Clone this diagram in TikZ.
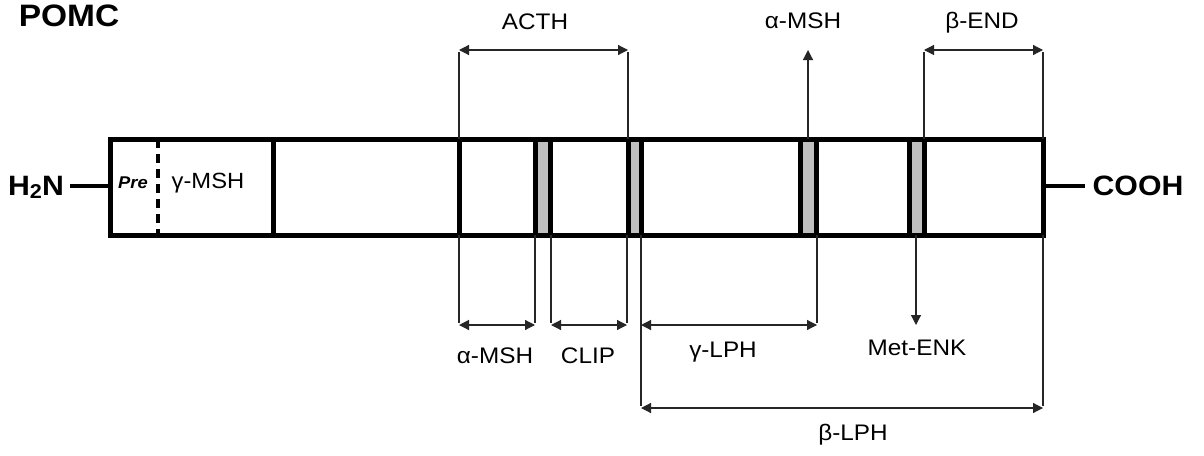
\documentclass[tikz,border=0pt]{standalone}
\usepackage{fontspec}
\setmainfont{Liberation Sans}[FakeStretch=1.08]
\usetikzlibrary{arrows.meta}
\begin{document}
\begin{tikzpicture}[x=1pt,y=-1pt,
  heavy/.style={line width=5pt},
  thinline/.style={line width=1.2pt, draw=black!85},
  tipped/.style={thinline,-{Triangle[length=10pt,width=10pt]}},
  dimline/.style={thinline,{Triangle[length=10pt,width=10pt]}-{Triangle[length=10pt,width=10pt]}},
  lbl/.style={font=\fontsize{22.5}{26}\selectfont, inner sep=0pt, anchor=base},
  big/.style={font=\fontsize{28}{32}\selectfont\bfseries, inner sep=0pt, anchor=base},
  band/.style={fill=black!25, draw=black, line width=5pt}]
\fill[white] (0,0) rectangle (1204,455);
\useasboundingbox (0,0) rectangle (1204,455);

% main bar
\draw[heavy] (110,139) rectangle (1043,235);
\draw[heavy] (273,139) -- (273,235);
\draw[heavy] (459,139) -- (459,235);
\draw[heavy, line width=4.5pt, dash pattern=on 9pt off 6pt] (158,139) -- (158,235);
\draw[band] (535,139) rectangle (550,235);
\draw[band] (628,139) rectangle (641,235);
\draw[band] (800,139) rectangle (816,235);
\draw[band] (909,139) rectangle (924,235);

% labels
\node[big, font=\fontsize{31}{34}\selectfont\bfseries] (pomc) at (69,27) {POMC};
\node[big] (h2n) at (36,195) {H\raisebox{-0.22ex}{\fontsize{20}{20}\selectfont 2}N};
\node[big] (cooh) at (1138,195) {COOH};
\node[lbl, font=\fontsize{17}{20}\selectfont\bfseries\itshape] (pre) at (133,188) {Pre};
\node[lbl, font=\fontsize{22}{26}\selectfont] (gmsh) at (208,188) {γ-MSH};

\coordinate (nL) at (70,186);
\coordinate (nR) at (110,186);
\coordinate (cL) at (1043,186);
\coordinate (cR) at (1085,186);
\draw[line width=4pt] (nL) -- (nR);
\draw[line width=4pt] (cL) -- (cR);

% top annotations
\node[lbl] (acth) at (535,29) {ACTH};
\node[lbl] (amshT) at (803,28) {α-MSH};
\node[lbl] (bend) at (982,28) {β-END};

\coordinate (a1t) at (459,50); \coordinate (a1b) at (459,139);
\coordinate (a2t) at (628,50); \coordinate (a2b) at (628,139);
\draw[thinline] (a1b) -- ([yshift=-2pt]a1t);
\draw[thinline] (a2b) -- ([yshift=-2pt]a2t);
\draw[dimline] (a1t) -- (a2t);

\coordinate (mT) at (808,50); \coordinate (mB) at (808,139);
\draw[tipped] (mB) -- (mT);

\coordinate (e1t) at (924,50); \coordinate (e1b) at (924,139);
\coordinate (e2t) at (1043,50); \coordinate (e2b) at (1043,139);
\draw[thinline] (e1b) -- ([yshift=-2pt]e1t);
\draw[thinline] (e2b) -- ([yshift=-2pt]e2t);
\draw[dimline] (e1t) -- (e2t);

% bottom annotations
\coordinate (b1) at (459,325); \coordinate (b1u) at (459,235);
\coordinate (b2) at (535,325); \coordinate (b2u) at (535,235);
\coordinate (b3) at (551,325); \coordinate (b3u) at (551,235);
\coordinate (b4) at (627,325); \coordinate (b4u) at (627,235);
\coordinate (b5) at (641,408); \coordinate (b5u) at (641,235);
\coordinate (b5m) at (641,325);
\coordinate (b6) at (817,325); \coordinate (b6u) at (817,235);
\coordinate (b7) at (1043,408); \coordinate (b7u) at (1043,235);
\foreach \p in {b1,b2,b3,b4,b6}{\draw[thinline] (\p u) -- ([yshift=2pt]\p);}
\draw[thinline] (b5u) -- ([yshift=2pt]b5);
\draw[thinline] (b7u) -- ([yshift=2pt]b7);
\draw[dimline] (b1) -- (b2);
\draw[dimline] (b3) -- (b4);
\draw[dimline] (b5m) -- (b6);
\draw[dimline] (b5) -- (b7);

\coordinate (kT) at (916,235); \coordinate (kB) at (916,325);
\draw[tipped] (kT) -- (kB);

\node[lbl] (amshB) at (495,363) {α-MSH};
\node[lbl] (clip) at (588,363) {CLIP};
\node[lbl] (glph) at (723,357) {γ-LPH};
\node[lbl] (menk) at (917,355) {Met-ENK};
\node[lbl] (blph) at (853,440) {β-LPH};
\end{tikzpicture}
\end{document}
